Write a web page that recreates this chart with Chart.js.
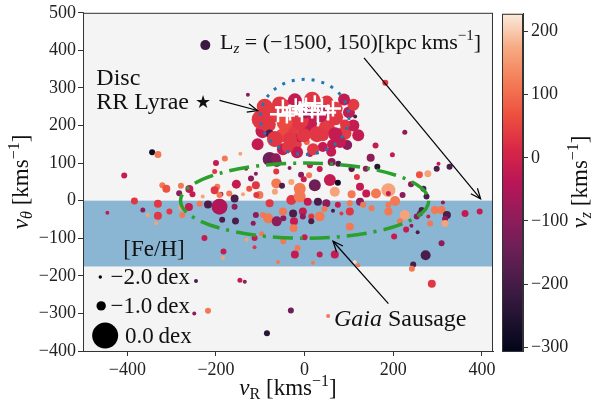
<!DOCTYPE html>
<html>
<head>
<meta charset="utf-8">
<script src="https://cdn.jsdelivr.net/npm/chart.js@4.4.1/dist/chart.umd.min.js"></script>
<style>
  body { margin: 0; background: #fff; }
  #wrap { position: relative; width: 596px; height: 406px; }
  #wrap canvas { position: absolute; left: 0; top: 0; }
</style>
</head>
<body>
<div id="wrap">
  <canvas id="main" width="596" height="406"></canvas>
  <canvas id="cbar" width="596" height="406"></canvas>
</div>
<script>
// halo stars: radial / azimuthal velocity, vertical velocity, metallicity
var vR = [
  -344, -331, -407, -321, -312, -279, -180, -145, -203, -154,
  -132, -110, -64, -34, -8, 10, 34, 57, 75, 106,
  -121, -110, -64, -51, -30, -11, 23, -2, 68, 106,
  125, -170, -125, -102, -158, -139, -260, -253, -283, -200,
  -197, -203, -189, -63, 12, 61, 76, 106, 138, 164,
  149, 160, 198, 226, 182, 298, 302, 327, 259, 278,
  139, 161, 189, 189, 221, 240, 268, 275, 118, -67,
  -109, -192, -230,
  -384, -331, -445, -365, -354, -331, -335, -305, -276, -278,
  -261, -237, -218, -192, -186, -158, -156, -116, -94, -79,
  -82, -63, -48, -26, -226, -131, -113, -97, -113, -48,
  -22, -16, -183, -184, -30, -11, 7, 30, 49, 75,
  102, 125, -49, -4, 15, 34, 45, 64, 83, 102,
  -110, -24, -25, -4, 15, 102, 0, 34, 68, -60,
  19, 113, 121, 132, 151, 189, 204, 189, 226, 260,
  264, 279, 294, 309, 312, 321, 317, 362, 395, 253,
  215, 229, 241, 255, 283, 317, 202, 309, 273, 245,
  242, 287, -245, -146, -135, -249, -218, -31, -85, 53,
  -90, 30, 70, 100, -70, 0, 50, -30, 90, -95,
  110, -20, 60, -40, 10, 110,
  -97, -83, -56, -22, 17, 50, 89, 69, -11, -49,
  28, 69, 121, -79, -106, -11, 5, 62, 96, -49,
  -17, 12, 41, -79, -67, -33, -2, 19, 80, 41,
  -38, -65, 114, -128, -33, 35, 91, -45, 1
];
var vTheta = [
  129, 123, 67, 41, 32, 40, 112, 125, 78, 44,
  85, 72, 78, 87, 69, 68, 84, 55, 48, 84,
  59, 41, 46, 40, 50, 32, 41, 57, 24, 17,
  37, 19, 32, 15, 6, 17, 31, 17, 20, 100,
  37, 28, 17, 103, 94, 103, 98, 85, 85, 90,
  114, 147, 122, 182, 314, 85, 98, 90, 69, 72,
  19, 19, 28, 19, 15, 44, 32, 11, 63, 24,
  15, 15, 11,
  -1, -8, -32, -25, -38, -40, -60, -29, -38, -18,
  -17, -8, -10, -16, -51, -16, -54, -60, -38, -7,
  -47, -55, -47, -34, -99, -104, -99, -88, -124, -108,
  -143, -126, -135, -152, 2, 11, -3, -3, -7, -11,
  -7, -3, -29, -29, -42, -42, -22, -27, -34, -29,
  -38, -55, -73, -42, -55, -69, -97, -143, -143, -163,
  -165, -163, -172, -11, -20, -11, -1, -29, -38, -34,
  -25, -42, -25, -25, -5, -38, -48, -34, -29, -42,
  -55, -77, -67, -84, -61, -61, -95, -113, -145, -170,
  -181, -221, -214, -212, -216, -300, -293, -292, -353, -307,
  250, 250, 245, 235, 230, 195, 195, 190, 180, 185,
  200, 150, 130, 250, 205, 255,
  216, 203, 256, 267, 269, 261, 269, 222, 214, 174,
  177, 177, 174, 179, 150, 169, 156, 150, 148, 137,
  129, 124, 143, 111, 164, 164, 174, 137, 156, 174,
  143, 113, 224, 282, 235, 230, 203, 208, 235
];
var vZ = [
  -290, 115, -20, 115, 70, 115, 115, 165, 35, -20,
  -100, -100, 35, -100, -100, 115, -20, -20, -290, 35,
  -100, 35, 115, -190, 165, 115, -140, -20, 165, 115,
  -20, 115, 70, 115, -190, 165, -20, -20, -100, -20,
  115, 35, -100, -100, -20, -100, -190, -190, -100, -240,
  -100, -20, -20, -100, 35, -190, -20, -190, 70, 165,
  -20, 115, 165, -20, -100, -100, -190, -190, 35, 165,
  35, 115, 165,
  35, 35, -20, -100, 165, 35, 165, 35, 115, 165,
  -20, 115, -190, -50, -190, -100, -190, -100, 115, 35,
  115, -100, -100, -190, -20, 165, -20, 115, 35, 115,
  -20, 115, -20, 165, 35, 115, -20, -190, -100, -20,
  115, -100, 115, -20, 35, 115, 115, -190, 35, 35,
  -100, -20, 115, -100, -190, 115, -20, -20, -20, 115,
  115, 210, 115, 115, 115, 115, 115, 115, 165, -100,
  -190, -20, 115, 115, -100, -190, -100, -20, -20, -100,
  115, -20, -100, -190, 115, 165, -20, -100, -190, -190,
  115, 35, -190, -20, -100, -100, 115, -140, -240, 115,
  40, 40, 40, -20, 40, 40, 40, 40, 40, -20,
  -20, 40, -20, 40, -20, 40,
  35, 35, 35, -20, 35, 35, -20, 35, 35, 60,
  35, -20, -20, -190, -20, -20, 90, -20, -100, -20,
  -20, -20, -20, -140, 35, 35, 35, 35, -20, 35,
  35, -100, -190, -100, 35, -20, 35, 60, -60
];
var feH = [
  -1.44, -1.29, -1.44, -1.44, -1.16, -1.44, -1.44, -1.84, -1.62, -1.04,
  -1.84, -1.84, -1.44, -1.84, -1.44, -1.44, -1.44, -0.76, -1.44, -1.44,
  -1.44, -1.16, -0.94, -1.44, -1.44, -0.76, -0.76, -1.44, -0.94, -1.16,
  -1.16, -1.44, -1.44, -1.16, -1.16, -1.84, -1.16, -1.44, -1.44, -1.44,
  -1.44, -1.16, -1.62, -0.94, -1.44, -1.16, -1.44, -1.44, -1.44, -1.44,
  -1.16, -1.44, -1.62, -1.62, -1.44, -1.44, -1.84, -1.44, -1.29, -1.29,
  -1.16, -0.94, -0.61, -1.62, -1.44, -1.44, -1.44, -1.44, -1.44, -1.44,
  -1.44, -1.44, -1.84,
  -1.29, -1.16, -1.84, -1.62, -1.84, -1.16, -1.84, -1.44, -1.44, -1.44,
  -1.16, -1.44, -1.16, -0.48, -1.44, -1.44, -1.29, -1.62, -1.44, -1.16,
  -0.94, -0.94, -1.44, -1.16, -1.44, -1.84, -1.44, -1.62, -1.84, -1.44,
  -1.16, -1.44, -1.44, -1.84, -0.94, -0.76, -1.16, -1.16, -1.16, -1.44,
  -1.44, -1.16, -1.16, -1.16, -1.44, -0.94, -1.44, -1.84, -1.84, -1.16,
  -1.44, -1.16, -1.16, -1.44, -1.44, -1.16, -1.44, -1.44, -1.16, -1.84,
  -1.84, -1.84, -1.84, -1.44, -1.44, -1.44, -0.94, -1.16, -0.94, -1.44,
  -1.44, -1.84, -1.16, -1.16, -1.84, -1.16, -1.44, -1.29, -1.44, -1.44,
  -1.44, -1.44, -1.84, -1.84, -1.44, -1.29, -1.44, -1.44, -0.94, -1.44,
  -1.44, -1.16, -1.84, -1.62, -1.84, -1.84, -1.44, -1.44, -1.44, -1.84,
  -0.48, -0.48, -0.61, -0.76, -0.48, -0.48, -0.48, -0.61, -0.61, -0.61,
  -0.76, -0.76, -0.94, -0.61, -0.48, -0.76,
  -0.26, -0.48, -0.48, -0.61, -0.48, -0.61, -0.76, -0.48, -0.36, -0.61,
  -0.48, -0.61, -0.76, -1.16, -0.76, -0.94, -1.44, -0.94, -0.94, -0.76,
  -0.76, -1.44, -0.94, -0.61, -0.48, -0.61, -0.61, -0.76, -0.76, -0.76,
  -0.76, -0.94, -1.84, -1.84, -0.48, -0.48, -0.94, -0.48, -0.76
];

// disc RR Lyrae
var rrVR = [-60, -49, -40, -33, -20, -11, -6, 3, 17, 23, 30, 39, 53, 64];
var rrVTheta = [230, 248, 227, 235, 251, 243, 230, 253, 240, 259, 230, 251, 235, 245];

// the single star quoted in the Lz note
var lzVR = [-224];
var lzVTheta = [414];
var lzVZ = [-215];
var lzFeH = [-0.94];

var xTicks = [-400, -200, 0, 200, 400];
var yTicks = [-400, -300, -200, -100, 0, 100, 200, 300, 400, 500];
var zTicks = [-300, -200, -100, 0, 100, 200];
var legendFeH = [-2.0, -1.0, 0.0];
var legendLabels = ['\u22122.0\u2009dex', '\u22121.0\u2009dex', '0.0\u2009dex'];

var xRange = [-500, 425];
var yRange = [-400, 500];
var zRange = [-306, 228];
var bandRange = [-175, 0];

var serif = "'Liberation Serif', 'Times New Roman', serif";
var ink = '#111';

// seaborn "rocket"
var rocket = ['#03051a', '#221331', '#451c47', '#6a1f56', '#921c5b', '#b91657',
              '#d92847', '#ed503e', '#f47d57', '#f6aa82', '#faebdd'];

function hexRgb(h) {
  return [parseInt(h.substr(1, 2), 16), parseInt(h.substr(3, 2), 16), parseInt(h.substr(5, 2), 16)];
}
var rocketRgb = rocket.map(hexRgb);

function vzColor(v) {
  var t = (v - zRange[0]) / (zRange[1] - zRange[0]);
  t = Math.max(0, Math.min(1, t));
  var f = t * (rocketRgb.length - 1);
  var i = Math.min(Math.floor(f), rocketRgb.length - 2);
  var u = f - i, a = rocketRgb[i], b = rocketRgb[i + 1];
  return 'rgb(' + Math.round(a[0] + (b[0] - a[0]) * u) + ',' +
    Math.round(a[1] + (b[1] - a[1]) * u) + ',' + Math.round(a[2] + (b[2] - a[2]) * u) + ')';
}

function feToRadius(fe) {
  return 13 * Math.pow(10, 0.442 * fe);
}

function tickLabel(v) {
  return v < 0 ? '\u2212' + Math.abs(v) : String(v);
}

function fontOf(p) {
  return (p[2] || 'normal') + ' ' + p[1] + 'px ' + (p[4] || serif);
}

// parts: [text, size, style, dy, family]
function drawRich(ctx, x, y, parts, align, angle) {
  ctx.save();
  ctx.translate(x, y);
  if (angle) ctx.rotate(angle);
  var widths = parts.map(function (p) { ctx.font = fontOf(p); return ctx.measureText(p[0]).width; });
  var total = widths.reduce(function (a, b) { return a + b; }, 0);
  var cx = align === 'center' ? -total / 2 : 0;
  ctx.fillStyle = ink;
  ctx.textAlign = 'left';
  ctx.textBaseline = 'alphabetic';
  parts.forEach(function (p, i) {
    ctx.font = fontOf(p);
    ctx.fillText(p[0], cx, p[3] || 0);
    cx += widths[i];
  });
  ctx.restore();
}

function arrow(ctx, x0, y0, x1, y1) {
  var a = Math.atan2(y1 - y0, x1 - x0), L = 11, w = 0.4;
  ctx.beginPath();
  ctx.moveTo(x0, y0);
  ctx.lineTo(x1, y1);
  ctx.stroke();
  ctx.beginPath();
  ctx.moveTo(x1 - L * Math.cos(a - w), y1 - L * Math.sin(a - w));
  ctx.lineTo(x1, y1);
  ctx.lineTo(x1 - L * Math.cos(a + w), y1 - L * Math.sin(a + w));
  ctx.stroke();
}

var velocityUnit = [[' [kms', 23], ['\u22121', 16, 'normal', -9], [']', 23]];

var decor = {
  id: 'decor',
  beforeDatasetsDraw: function (chart) {
    var ctx = chart.ctx, a = chart.chartArea, ys = chart.scales.y;
    ctx.save();
    ctx.fillStyle = '#f4f4f4';
    ctx.fillRect(a.left, a.top, a.right - a.left, a.bottom - a.top);
    var yTop = ys.getPixelForValue(bandRange[1]), yBot = ys.getPixelForValue(bandRange[0]);
    ctx.fillStyle = 'rgba(31,119,180,0.5)';
    ctx.fillRect(a.left, yTop, a.right - a.left, yBot - yTop);
    ctx.restore();
  },
  afterDatasetsDraw: function (chart) {
    var ctx = chart.ctx, xs = chart.scales.x, ys = chart.scales.y;
    var px = function (v) { return xs.getPixelForValue(v); };
    var py = function (v) { return ys.getPixelForValue(v); };
    ctx.save();
    // disc region
    ctx.strokeStyle = '#1f77b4';
    ctx.lineWidth = 3;
    ctx.setLineDash([3, 7]);
    ctx.beginPath();
    ctx.ellipse(px(0), py(223), px(100) - px(0), py(0) - py(100), 0, 0, Math.PI * 2);
    ctx.stroke();
    // Gaia Sausage region
    ctx.strokeStyle = '#2ca02c';
    ctx.lineWidth = 3.5;
    ctx.setLineDash([20, 7, 3, 7]);
    ctx.beginPath();
    ctx.ellipse(px(0), py(0), px(280) - px(0), py(0) - py(100), 0, 0, Math.PI * 2);
    ctx.stroke();
    ctx.setLineDash([]);
    // pointers
    ctx.strokeStyle = '#000';
    ctx.lineWidth = 1.2;
    arrow(ctx, px(134), py(380), px(397), py(5));
    arrow(ctx, px(-192), py(267), px(-106), py(240));
    arrow(ctx, px(189), py(-274), px(64), py(-108));
    ctx.restore();
  },
  afterDraw: function (chart) {
    var ctx = chart.ctx, a = chart.chartArea, xs = chart.scales.x, ys = chart.scales.y;
    var px = function (v) { return xs.getPixelForValue(v); };
    var py = function (v) { return ys.getPixelForValue(v); };
    ctx.save();
    ctx.strokeStyle = '#333';
    ctx.lineWidth = 1;
    ctx.strokeRect(a.left + 0.5, a.top + 0.5, a.right - a.left - 1, a.bottom - a.top);

    drawRich(ctx, px(-470), py(309), [['Disc', 24]]);
    drawRich(ctx, px(-470), py(244), [['RR Lyrae ', 24], ['\u2605', 18, 'normal', -1, "'DejaVu Sans', sans-serif"]]);
    drawRich(ctx, px(-191), py(404), [['L', 22], ['z', 15, 'italic', 4],
      [' = (\u22121500, 150)[kpc\u2009kms', 22], ['\u22121', 15, 'normal', -9], [']', 22]]);
    drawRich(ctx, px(-409), py(-148), [['[Fe/H]', 23]]);
    drawRich(ctx, px(66), py(-333), [['Gaia', 24, 'italic'], [' Sausage', 24]]);

    // metallicity key
    ctx.fillStyle = '#000';
    var dotX = [-461, -459, -450], dotY = [-203, -280, -359];
    var textX = [-438, -438, -405], textY = [-222, -300, -379];
    legendFeH.forEach(function (fe, i) {
      ctx.beginPath();
      ctx.arc(px(dotX[i]), py(dotY[i]), feToRadius(fe), 0, Math.PI * 2);
      ctx.fill();
      drawRich(ctx, px(textX[i]), py(textY[i]), [[legendLabels[i], 23]]);
    });

    // axis titles
    drawRich(ctx, (a.left + a.right) / 2, 395, [['v', 23, 'italic'], ['R', 16, 'normal', 4]].concat(velocityUnit), 'center');
    drawRich(ctx, 28, (a.top + a.bottom) / 2, [['v', 23, 'italic'], ['\u03b8', 16, 'italic', 4]].concat(velocityUnit), 'center', -Math.PI / 2);
    drawRich(ctx, 587, (a.top + a.bottom) / 2, [['v', 23, 'italic'], ['z', 16, 'italic', 4]].concat(velocityUnit), 'center', -Math.PI / 2);
    ctx.restore();
  }
};

var axisFont = { family: serif, size: 18 };

var stars = vR.map(function (x, i) { return { x: x, y: vTheta[i] }; });
var rrStars = rrVR.map(function (x, i) { return { x: x, y: rrVTheta[i] }; });
var lzStar = lzVR.map(function (x, i) { return { x: x, y: lzVTheta[i] }; });

new Chart(document.getElementById('main'), {
  type: 'scatter',
  data: {
    datasets: [{
      data: stars,
      order: 2,
      pointRadius: function (c) { return feToRadius(feH[c.dataIndex]); },
      pointBackgroundColor: function (c) { return vzColor(vZ[c.dataIndex]); },
      pointBorderWidth: 0
    }, {
      // lower order is drawn on top
      data: rrStars,
      order: 1,
      pointStyle: 'cross',
      pointRadius: 8,
      pointBorderColor: '#fff',
      pointBorderWidth: 2.5
    }, {
      data: lzStar,
      order: 2,
      pointRadius: function (c) { return feToRadius(lzFeH[c.dataIndex]); },
      pointBackgroundColor: function (c) { return vzColor(lzVZ[c.dataIndex]); },
      pointBorderWidth: 0
    }]
  },
  options: {
    responsive: false,
    animation: false,
    events: [],
    layout: { padding: { left: 0, right: 103, top: 10, bottom: 0 } },
    plugins: { legend: { display: false }, tooltip: { enabled: false } },
    scales: {
      x: {
        type: 'linear',
        min: xRange[0],
        max: xRange[1],
        afterFit: function (s) { s.height = 55; },
        afterBuildTicks: function (s) { s.ticks = xTicks.map(function (v) { return { value: v }; }); },
        ticks: { callback: tickLabel, font: axisFont, color: '#222', padding: 3, maxRotation: 0, autoSkip: false },
        grid: { drawOnChartArea: false, tickLength: 5, color: '#333' },
        border: { color: '#333' }
      },
      y: {
        type: 'linear',
        min: yRange[0],
        max: yRange[1],
        afterFit: function (s) { s.width = 83; },
        afterBuildTicks: function (s) { s.ticks = yTicks.map(function (v) { return { value: v }; }); },
        ticks: { callback: tickLabel, font: axisFont, color: '#222', padding: 2, autoSkip: false },
        grid: { drawOnChartArea: false, tickLength: 5, color: '#333' },
        border: { color: '#333' }
      }
    }
  },
  plugins: [decor]
});

// colour bar for v_z
var colorbar = {
  id: 'colorbar',
  beforeDatasetsDraw: function (chart) {
    var ctx = chart.ctx, a = chart.chartArea, ys = chart.scales.y;
    for (var y = Math.floor(a.top); y < a.bottom; y++) {
      ctx.fillStyle = vzColor(ys.getValueForPixel(y + 0.5));
      ctx.fillRect(a.left, y, a.right - a.left, 1);
    }
  },
  afterDraw: function (chart) {
    var ctx = chart.ctx, a = chart.chartArea;
    ctx.save();
    ctx.strokeStyle = '#333';
    ctx.lineWidth = 1;
    ctx.strokeRect(a.left + 0.5, a.top + 0.5, a.right - a.left - 1, a.bottom - a.top);
    ctx.restore();
  }
};

new Chart(document.getElementById('cbar'), {
  type: 'scatter',
  data: { datasets: [] },
  options: {
    responsive: false,
    animation: false,
    events: [],
    layout: { padding: { left: 502, right: 0, top: 10, bottom: 55 } },
    plugins: { legend: { display: false }, tooltip: { enabled: false } },
    scales: {
      x: { type: 'linear', display: false, min: 0, max: 1 },
      y: {
        type: 'linear',
        position: 'right',
        min: zRange[0],
        max: zRange[1],
        afterFit: function (s) { s.width = 73; },
        afterBuildTicks: function (s) { s.ticks = zTicks.map(function (v) { return { value: v }; }); },
        ticks: { callback: tickLabel, font: axisFont, color: '#222', padding: 3, autoSkip: false },
        grid: { drawOnChartArea: false, tickLength: 5, color: '#333' },
        border: { color: '#333' }
      }
    }
  },
  plugins: [colorbar]
});
</script>
</body>
</html>
